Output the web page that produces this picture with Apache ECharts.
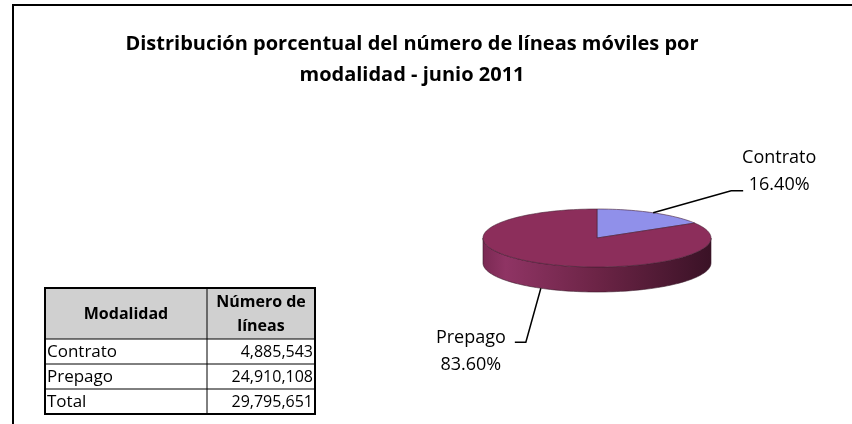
<!DOCTYPE html>
<html>
<head>
<meta charset="utf-8">
<script src="https://cdn.jsdelivr.net/npm/echarts@6/dist/echarts.min.js"></script>
<style>
  html, body { margin: 0; padding: 0; background: #fff; }
  #chart { width: 852px; height: 424px; }
</style>
</head>
<body>
<div id="chart"></div>
<script>
// datos
const categories = ['Contrato', 'Prepago'];
const lineCounts = [4885543, 24910108];
const percentLabels = ['16.40%', '83.60%'];
const totalLabel = 'Total';
const totalCount = 29795651;
const tableHeader = ['Modalidad', 'Número de\nlíneas'];

const titleText = 'Distribución porcentual del número de líneas móviles por\nmodalidad - junio 2011';
const FONT = '"Open Sans", sans-serif';

// colores
const topColors = ['#9090ea', '#8c2e5b'];
const sideColors = [
  ['#6e6ec8', '#8c8ce6', '#5a5aa8', '#30305e'],
  ['#7a2953', '#8f3464', '#6c2446', '#3a1226']
];

// geometria del pastel 3D
const pie = { cx: 597, cy: 238, rx: 114, ry: 29, depth: 25 };
// posicion de las etiquetas respecto al borde del pastel
const labelLayout = [
  { elbow: [78, -22], tail: 12, text: [36, -19.5] },
  { elbow: [-15, 54], tail: -11, text: [-44, 9.5] }
];

const sum = lineCounts.reduce((a, b) => a + b, 0);
const fmt = n => n.toLocaleString('en-US');

function pt(a, dy) {
  return [pie.cx + pie.rx * Math.sin(a), pie.cy - pie.ry * Math.cos(a) + (dy || 0)];
}
function arc(a0, a1, dy) {
  const n = Math.max(2, Math.ceil((a1 - a0) / (Math.PI / 90)));
  const pts = [];
  for (let k = 0; k <= n; k++) pts.push(pt(a0 + (a1 - a0) * k / n, dy));
  return pts;
}

function renderSlice(params, api) {
  const i = params.dataIndex;
  let before = 0;
  for (let k = 0; k < i; k++) before += lineCounts[k];
  const a0 = 2 * Math.PI * before / sum;
  const a1 = 2 * Math.PI * (before + api.value(0)) / sum;
  const children = [];

  // lado frontal visible (de 90 a 270 grados)
  const s = Math.max(a0, Math.PI / 2), e = Math.min(a1, 3 * Math.PI / 2);
  if (e > s) {
    const top = arc(s, e, 0);
    const bottom = arc(s, e, pie.depth).reverse();
    const c = sideColors[i];
    children.push({
      type: 'polygon',
      shape: { points: top.concat(bottom) },
      style: {
        fill: { type: 'linear', x: 0, y: 0, x2: 1, y2: 0, colorStops: [
          { offset: 0, color: c[0] }, { offset: 0.1, color: c[1] },
          { offset: 0.5, color: c[2] }, { offset: 1, color: c[3] }
        ] },
        stroke: '#3a1a2a', lineWidth: 0.6
      }
    });
  }
  // cara superior
  children.push({
    type: 'polygon',
    shape: { points: [[pie.cx, pie.cy]].concat(arc(a0, a1, 0)) },
    style: { fill: topColors[i], stroke: '#4a2438', lineWidth: 0.6 }
  });

  // linea guia y etiqueta
  const mid = (a0 + a1) / 2;
  const front = mid > Math.PI / 2 && mid < 3 * Math.PI / 2;
  const anchor = pt(mid, front ? pie.depth : 0);
  const L = labelLayout[i];
  const elbow = [anchor[0] + L.elbow[0], anchor[1] + L.elbow[1]];
  const end = [elbow[0] + L.tail, elbow[1]];
  children.push({
    type: 'polyline',
    shape: { points: [anchor, elbow, end] },
    style: { stroke: '#000', lineWidth: 1.5, fill: null }
  });
  children.push({
    type: 'text',
    x: end[0] + L.text[0], y: end[1] + L.text[1],
    style: {
      text: categories[i] + '\n' + percentLabels[i],
      align: 'center', verticalAlign: 'middle',
      font: '18px ' + FONT, lineHeight: 27, fill: '#000'
    }
  });
  return { type: 'group', children: children };
}

// tabla
const tbl = { x: 45, y: 288, w1: 162, w2: 108, headH: 51, rowH: 25 };
const rows = categories.map((c, k) => [c, fmt(lineCounts[k])]).concat([[totalLabel, fmt(totalCount)]]);

function tableGraphics() {
  const g = [];
  const W = tbl.w1 + tbl.w2;
  const H = tbl.headH + rows.length * tbl.rowH;
  g.push({ type: 'rect', shape: { x: tbl.x, y: tbl.y, width: W, height: tbl.headH }, style: { fill: '#d0d0d0' } });
  g.push({ type: 'line', shape: { x1: tbl.x + tbl.w1, y1: tbl.y, x2: tbl.x + tbl.w1, y2: tbl.y + H }, style: { stroke: '#000', lineWidth: 1 } });
  for (let k = 0; k < rows.length; k++) {
    const yy = tbl.y + tbl.headH + k * tbl.rowH;
    g.push({ type: 'line', shape: { x1: tbl.x, y1: yy, x2: tbl.x + W, y2: yy }, style: { stroke: '#000', lineWidth: 1 } });
    g.push({ type: 'text', x: tbl.x + 2, y: yy + tbl.rowH / 2 + 1,
      style: { text: rows[k][0], font: '17px ' + FONT, fill: '#000', verticalAlign: 'middle' } });
    g.push({ type: 'text', x: tbl.x + W - 2, y: yy + tbl.rowH / 2 + 1,
      style: { text: rows[k][1], font: '16px ' + FONT, fill: '#000', align: 'right', verticalAlign: 'middle' } });
  }
  g.push({ type: 'text', x: tbl.x + tbl.w1 / 2, y: tbl.y + tbl.headH / 2 + 1,
    style: { text: tableHeader[0], font: 'bold 16px ' + FONT, fill: '#000', align: 'center', verticalAlign: 'middle' } });
  g.push({ type: 'text', x: tbl.x + tbl.w1 + tbl.w2 / 2, y: tbl.y + tbl.headH / 2 + 1,
    style: { text: tableHeader[1], font: 'bold 16px ' + FONT, fill: '#000', align: 'center', verticalAlign: 'middle', lineHeight: 24 } });
  g.push({ type: 'rect', shape: { x: tbl.x, y: tbl.y, width: W, height: H }, style: { fill: null, stroke: '#000', lineWidth: 2 } });
  return g;
}

const chart = echarts.init(document.getElementById('chart'));
chart.setOption({
  backgroundColor: '#fff',
  animation: false,
  graphic: [
    { type: 'rect', shape: { x: 13, y: 5, width: 900, height: 500 }, style: { fill: null, stroke: '#000', lineWidth: 2 } },
    { type: 'text', x: 412, y: 60,
      style: { text: titleText, align: 'center', verticalAlign: 'middle', font: 'bold 20px ' + FONT, lineHeight: 31, fill: '#000' } }
  ].concat(tableGraphics()),
  series: [{
    type: 'custom',
    coordinateSystem: 'none',
    renderItem: renderSlice,
    data: lineCounts.map((v, k) => ({ name: categories[k], value: [v] }))
  }]
});
</script>
</body>
</html>
